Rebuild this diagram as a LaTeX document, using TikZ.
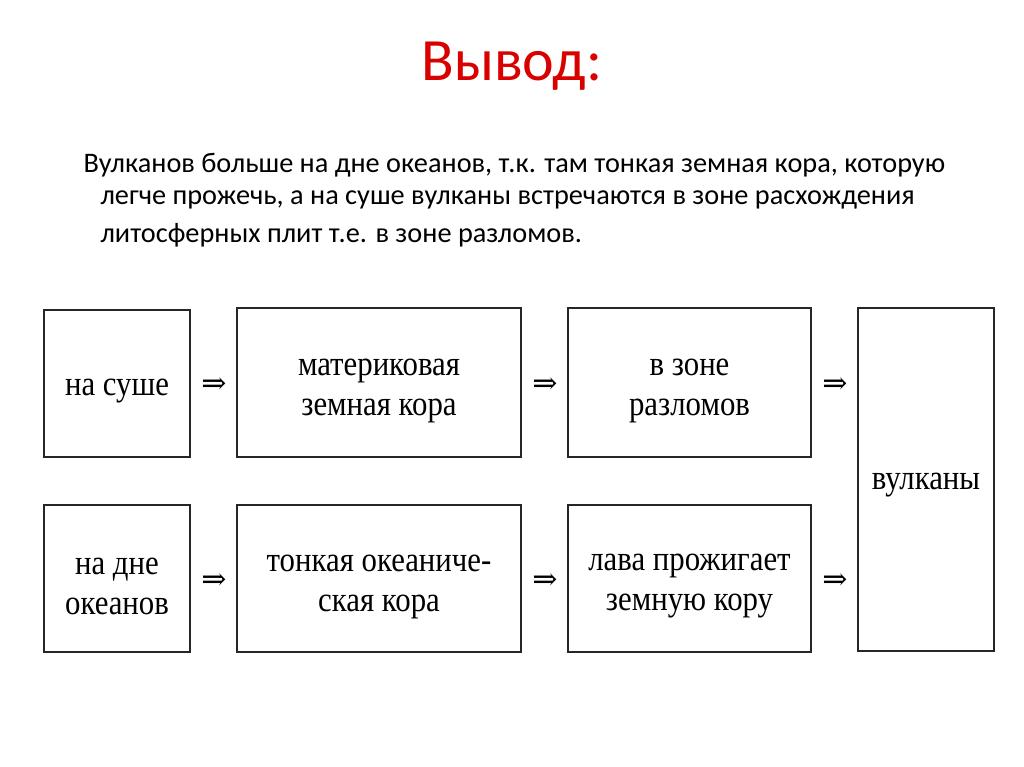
\documentclass[tikz,border=0pt]{standalone}
\usepackage{fontspec}
\setmainfont{Carlito}
\newfontfamily\boxfont[FakeStretch=0.88]{Liberation Serif}
\newfontfamily\arrfont{DejaVu Serif}
\begin{document}
\begin{tikzpicture}[x=1pt,y=-1pt,
  bx/.style={draw=black!85,line width=1.6pt,inner sep=0pt,font=\boxfont\fontsize{35}{40}\selectfont,align=center},
  bt/.style={font=\boxfont\fontsize{35}{40}\selectfont,align=center,inner sep=0pt},
  arr/.style={font=\arrfont\fontsize{30}{30}\selectfont,inner sep=0pt}]
\useasboundingbox[fill=white] (0,0) rectangle (1024,767);
\node[text=red!85!black,font=\fontsize{60}{68}\selectfont] (title) at (512,66) {Вывод:};
\node[anchor=west,font=\fontsize{28.3}{30}\selectfont] (l1) at (80,165) {Вулканов больше на дне океанов, т.к. там тонкая земная кора, которую};
\node[anchor=west,font=\fontsize{28.3}{30}\selectfont] (l2) at (97,200) {легче прожечь, а на суше вулканы встречаются в зоне расхождения};
\node[anchor=west,font=\fontsize{28.3}{30}\selectfont] (l3) at (97,235) {литосферных плит т.е. в зоне разломов.};
\node[bx,minimum width=146pt,minimum height=147pt] (a1) at (117,383.5) {};
\node[bx,minimum width=284pt,minimum height=149pt] (a2) at (379,382.5) {};
\node[bx,minimum width=243pt,minimum height=149pt] (a3) at (689.5,382.5) {};
\node[bx,minimum width=136pt,minimum height=343pt] (v) at (926,479.5) {};
\node[bx,minimum width=146pt,minimum height=147pt] (b1) at (117,578.5) {};
\node[bx,minimum width=284pt,minimum height=147pt] (b2) at (379,578.5) {};
\node[bx,minimum width=243pt,minimum height=147pt] (b3) at (689.5,578.5) {};
\node[bt] (ta1) at ([yshift=-8pt]a1.center) {на суше};
\node[bt] (ta2) at ([yshift=-8pt]a2.center) {материковая\\земная кора};
\node[bt] (ta3) at ([yshift=-8pt]a3.center) {в зоне\\разломов};
\node[bt] (tv) at ([yshift=-6pt]v.center) {вулканы};
\node[bt] (tb1) at ([yshift=-8pt]b1.center) {на дне\\океанов};
\node[bt] (tb2) at ([yshift=-8pt]b2.center) {тонкая океаниче-\\ская кора};
\node[bt] (tb3) at ([yshift=-8pt]b3.center) {лава прожигает\\земную кору};
\node[arr] (r1) at (214,386) {⇒};
\node[arr] (r2) at (545,386) {⇒};
\node[arr] (r3) at (835,386) {⇒};
\node[arr] (s1) at (214,582) {⇒};
\node[arr] (s2) at (545,582) {⇒};
\node[arr] (s3) at (835,582) {⇒};
\end{tikzpicture}
\end{document}
